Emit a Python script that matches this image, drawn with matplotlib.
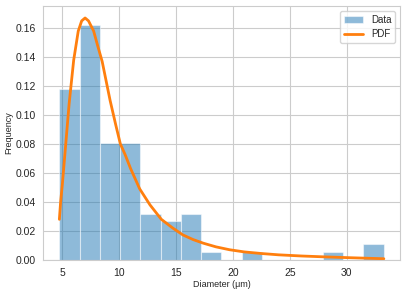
import matplotlib
matplotlib.use('Agg')
import matplotlib.pyplot as plt
import seaborn as sns
import numpy as np

sns.set_style('whitegrid')
plt.rcParams['font.family'] = ['Liberation Sans', 'DejaVu Sans']

# histogram bins (diameter in um) and density heights
bin_edges = [4.74, 6.52, 8.30, 10.08, 11.86, 13.64, 15.42, 17.20, 18.98,
             20.76, 22.54, 24.32, 26.10, 27.88, 29.66, 31.44, 33.25]
density = [0.118, 0.162, 0.081, 0.081, 0.032, 0.027, 0.032, 0.0054,
           0.0, 0.0054, 0.0, 0.0, 0.0, 0.0054, 0.0, 0.0108]

# fitted PDF
pdf_x = [4.74, 4.85, 5.0, 5.3, 5.6, 6.0, 6.4, 6.7, 7.0, 7.3, 7.75, 8.1, 8.5,
         9.2, 9.7, 10.1, 10.5, 11.0, 11.8, 12.7, 13.7, 14.7, 15.6, 16.5,
         17.4, 18.5, 19.7, 21.0, 22.5, 24.0, 26.0, 28.0, 30.3, 33.25]
pdf_y = [0.028, 0.040, 0.052, 0.080, 0.108, 0.138, 0.158, 0.165, 0.167,
         0.165, 0.158, 0.148, 0.137, 0.110, 0.093, 0.080, 0.073, 0.063,
         0.049, 0.038, 0.028, 0.022, 0.0172, 0.014, 0.0115, 0.0090, 0.0070,
         0.0055, 0.0044, 0.0035, 0.0027, 0.0021, 0.0015, 0.0008]

fig = plt.figure(figsize=(4.07, 2.94), dpi=100)
ax = fig.add_axes([0.106, 0.116, 0.877, 0.864])

centers = [(a + b) / 2 for a, b in zip(bin_edges[:-1], bin_edges[1:])]
ax.hist(centers, bins=bin_edges, weights=density, color='tab:blue',
        alpha=0.5, edgecolor='white', linewidth=0.8, label='Data')
ax.plot(pdf_x, pdf_y, color='tab:orange', linewidth=2, label='PDF')

ax.set_xlabel('Diameter (μm)', fontsize=6.5, labelpad=1.5)
ax.set_ylabel('Frequency', fontsize=6.5, labelpad=1.5)
ax.tick_params(axis='both', labelsize=7.5, pad=2)
ax.legend(loc='upper right', fontsize=7)

fig.savefig('out.png', dpi=100)
